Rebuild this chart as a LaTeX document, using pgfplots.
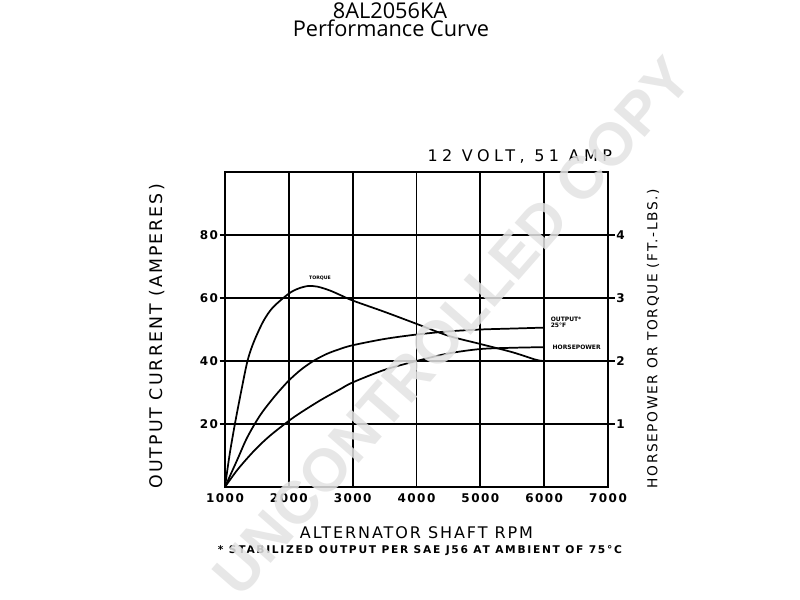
\documentclass[border=0pt]{standalone}
\usepackage{fontspec}
\usepackage{pgfplots}
\pgfplotsset{compat=1.18}
\setmainfont{DejaVu Sans}
\newfontfamily\titlefont{Open Sans}
\newfontfamily\tickfont[LetterSpace=12]{DejaVu Sans}
\newfontfamily\labfont[LetterSpace=12]{DejaVu Sans}
\newfontfamily\voltfont[LetterSpace=28]{DejaVu Sans}
\newfontfamily\footfont[LetterSpace=16]{DejaVu Sans}
\newfontfamily\wmfont{Liberation Sans}

\pgfplotstableread{
rpm amp
1000 0
1100 4.5
1200 9
1330 15
1465 20
1600 24.2
1800 29.3
2000 33.8
2200 37.4
2400 40.2
2600 42.3
2800 43.8
3000 45
3500 47
4000 48.4
4500 49.4
5000 50
5500 50.3
6000 50.6
}\outputdata

\pgfplotstableread{
rpm hp
1000 0
1200 0.28
1465 0.585
1700 0.81
2000 1.05
2200 1.19
2500 1.38
2800 1.55
3000 1.66
3500 1.86
4000 2.0
4500 2.12
5000 2.19
5500 2.21
6000 2.22
}\hpdata

\pgfplotstableread{
rpm tq
1000 0
1070 0.5
1155 1.0
1250 1.5
1352 2.0
1450 2.3
1600 2.63
1750 2.85
2000 3.07
2150 3.15
2300 3.19
2450 3.18
2640 3.12
2800 3.05
3000 2.96
3500 2.78
4000 2.59
4500 2.40
5000 2.27
5500 2.14
5870 2.02
6000 2.0
}\tqdata

\begin{document}
\begin{tikzpicture}
\useasboundingbox (-168.75pt,-84.75pt) rectangle (431.25pt,365.25pt);
\begin{axis}[
  scale only axis,
  width=287.25pt, height=236.25pt,
  xmin=1000, xmax=7000, ymin=0, ymax=100,
  xtick={1000,2000,...,7000},
  ytick={20,40,60,80},
  xtick pos=bottom, ytick pos=left,
  major x tick style={draw=none},
  tick align=outside,
  major tick length=4pt,
  every tick/.style={black, line width=1.2pt},
  grid=major,
  major grid style={black, line width=1.3pt},
  axis line style={black, line width=1.6pt},
  /pgf/number format/assume math mode=true,
  /pgf/number format/set thousands separator={},
  ticklabel style={font=\tickfont\bfseries\fontsize{9}{10}\selectfont},
  xticklabel style={inner sep=0pt, yshift=-1pt},
  yticklabel style={inner sep=1pt},
  xlabel={ALTERNATOR SHAFT RPM},
  xlabel style={at={(axis description cs:0.5,-0.145)}, anchor=center, font=\labfont\fontsize{12}{14}\selectfont},
  ylabel={OUTPUT CURRENT (AMPERES)},
  ylabel style={at={(axis description cs:-0.1775,0.478)}, anchor=center, font=\labfont\fontsize{13}{15}\selectfont},
]
\addplot[black, line width=1.3pt, smooth, tension=0.5] table[x=rpm, y=amp] {\outputdata};
\node[font=\bfseries\fontsize{3.5}{4}\selectfont, anchor=center] at (axis cs:2488,66.3) {TORQUE};
\node[font=\bfseries\fontsize{4.5}{5}\selectfont, anchor=west, align=left] at (axis cs:6030,52.3) {OUTPUT*\\25°F};
\node[font=\bfseries\fontsize{4.5}{5}\selectfont, anchor=west] at (axis cs:6060,44.3) {HORSEPOWER};
\end{axis}
\begin{axis}[
  scale only axis,
  width=287.25pt, height=236.25pt,
  xmin=1000, xmax=7000, ymin=0, ymax=5,
  axis x line=none,
  axis y line*=right,
  ytick={1,2,3,4},
  tick align=outside,
  major tick length=5pt,
  every tick/.style={black, line width=1.2pt},
  axis line style={black, line width=1.6pt},
  /pgf/number format/assume math mode=true,
  ticklabel style={font=\tickfont\bfseries\fontsize{9}{10}\selectfont},
  yticklabel style={inner sep=1pt},
  ylabel={HORSEPOWER OR TORQUE (FT.-LBS.)},
  ylabel style={at={(axis description cs:1.1175,0.471)}, anchor=center, font=\labfont\fontsize{10.3}{12}\selectfont},
]
\addplot[black, line width=1.3pt, smooth, tension=0.5] table[x=rpm, y=hp] {\hpdata};
\addplot[black, line width=1.3pt, smooth, tension=0.5] table[x=rpm, y=tq] {\tqdata};
\end{axis}
\node[font=\titlefont\fontsize{16.3}{18}\selectfont, anchor=base] at (123.75pt,351pt) {8AL2056KA};
\node[font=\titlefont\fontsize{16.3}{18}\selectfont, anchor=base] at (124.5pt,337.5pt) {Performance Curve};
\node[font=\voltfont\fontsize{12}{14}\selectfont, anchor=base east, inner sep=0pt] at (290.5pt,243.75pt) {12 VOLT, 51 AMP};
\node[font=\footfont\bfseries\fontsize{8}{10}\selectfont, anchor=center] at (146.25pt,-48pt) {* STABILIZED OUTPUT PER SAE J56 AT AMBIENT OF 75°C};
\node[font=\wmfont\bfseries\fontsize{45}{50}\selectfont, text=gray!22, fill opacity=0.85, text opacity=0.85, rotate=48.8, anchor=center] at (170.25pt,120.75pt) {UNCONTROLLED COPY};
\end{tikzpicture}
\end{document}
